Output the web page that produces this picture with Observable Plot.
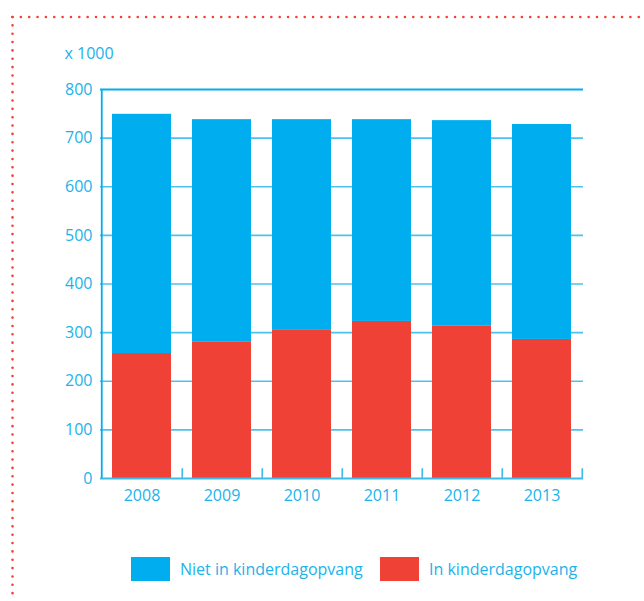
<!DOCTYPE html>
<html>
<head>
<meta charset="utf-8">
<script src="https://cdn.jsdelivr.net/npm/d3@7"></script>
<script src="https://cdn.jsdelivr.net/npm/@observablehq/plot@0.6"></script>
<style>
  html, body { margin: 0; padding: 0; background: #fff; }
  #wrap { position: relative; width: 644px; height: 601px; overflow: hidden; font-family: "Open Sans", sans-serif; }
  #border { position: absolute; left: 0; top: 0; }
  #chart { position: absolute; left: 0; top: 0; }
  .legend { position: absolute; top: 556px; left: 0; width: 644px; height: 26px; font-size: 16px; color: #1cb2ea; }
  .item { position: absolute; top: 0; display: flex; align-items: center; height: 25px; }
  .sw { width: 39px; height: 24px; margin-right: 10px; }
</style>
</head>
<body>
<div id="wrap">
  <svg id="border" width="644" height="601">
    <line x1="12.5" y1="17" x2="644" y2="17" stroke="#ef4136" stroke-width="2.6" stroke-linecap="round" stroke-dasharray="0 8.35"/>
    <line x1="12.5" y1="17" x2="12.5" y2="601" stroke="#ef4136" stroke-width="2.6" stroke-linecap="round" stroke-dasharray="0 8.35"/>
  </svg>
  <div id="chart"></div>
  <div class="legend" id="legend"></div>
</div>
<script>
const years = ["2008", "2009", "2010", "2011", "2012", "2013"];
const inOpvang = [257, 280, 306, 323, 313, 286];
const nietInOpvang = [492, 458, 432, 415, 423, 442];
const groups = ["In kinderdagopvang", "Niet in kinderdagopvang"];
const groupColors = ["#ef4136", "#00aeef"];
const yTicks = [0, 100, 200, 300, 400, 500, 600, 700, 800];
const gridValues = [100, 200, 300, 400, 500, 600, 700];
const unitLabel = "x 1000";

const data = [];
years.forEach((y, i) => {
  data.push({year: y, group: groups[0], value: inOpvang[i]});
  data.push({year: y, group: groups[1], value: nietInOpvang[i]});
});

const W = 644, H = 520, mL = 100, mR = 61, mT = 89, mB = 42;
const halfStep = (W - mL - mR) / years.length / 2;
const textColor = "#1cb2ea";
const axisBlue = "#00aeef";

const chart = Plot.plot({
  width: W,
  height: H,
  marginLeft: mL,
  marginRight: mR,
  marginTop: mT,
  marginBottom: mB,
  style: {fontFamily: "Open Sans, sans-serif", fontSize: "16px", color: textColor, background: "transparent"},
  x: {domain: years, paddingInner: 0.267, paddingOuter: 0.1335, label: null, tickSize: 0, tickPadding: 11},
  y: {domain: [0, 800], ticks: yTicks, label: null, tickSize: 0, tickPadding: 8},
  color: {domain: groups, range: groupColors},
  marks: [
    Plot.ruleY(gridValues, {stroke: "#4cc2ee", strokeWidth: 1.6}),
    Plot.barY(data, {x: "year", y: "value", fill: "group"}),
    Plot.ruleY([800], {stroke: axisBlue, strokeWidth: 1.8}),
    Plot.ruleY([0], {stroke: "#3dbbeb", strokeWidth: 1.8}),
    Plot.ruleX([years[0]], {y1: 0, y2: 800, dx: -halfStep, stroke: axisBlue, strokeWidth: 1.8}),
    Plot.ruleX(years, {y1: 0, y2: 20, dx: halfStep, stroke: "#3dbbeb", strokeWidth: 1.6}),
    Plot.text([unitLabel], {frameAnchor: "top-left", lineAnchor: "middle", textAnchor: "start", dx: -36, dy: -36, fill: textColor, fontSize: 16})
  ]
});
document.getElementById("chart").appendChild(chart);

// Legend (HTML)
const legend = document.getElementById("legend");
const legendOrder = [1, 0];
const legendX = [131, 380];
legendOrder.forEach((gi, k) => {
  const item = document.createElement("div");
  item.className = "item";
  item.style.left = legendX[k] + "px";
  const sw = document.createElement("div");
  sw.className = "sw";
  sw.style.background = groupColors[gi];
  const t = document.createElement("span");
  t.textContent = groups[gi];
  item.appendChild(sw);
  item.appendChild(t);
  legend.appendChild(item);
});
</script>
</body>
</html>
